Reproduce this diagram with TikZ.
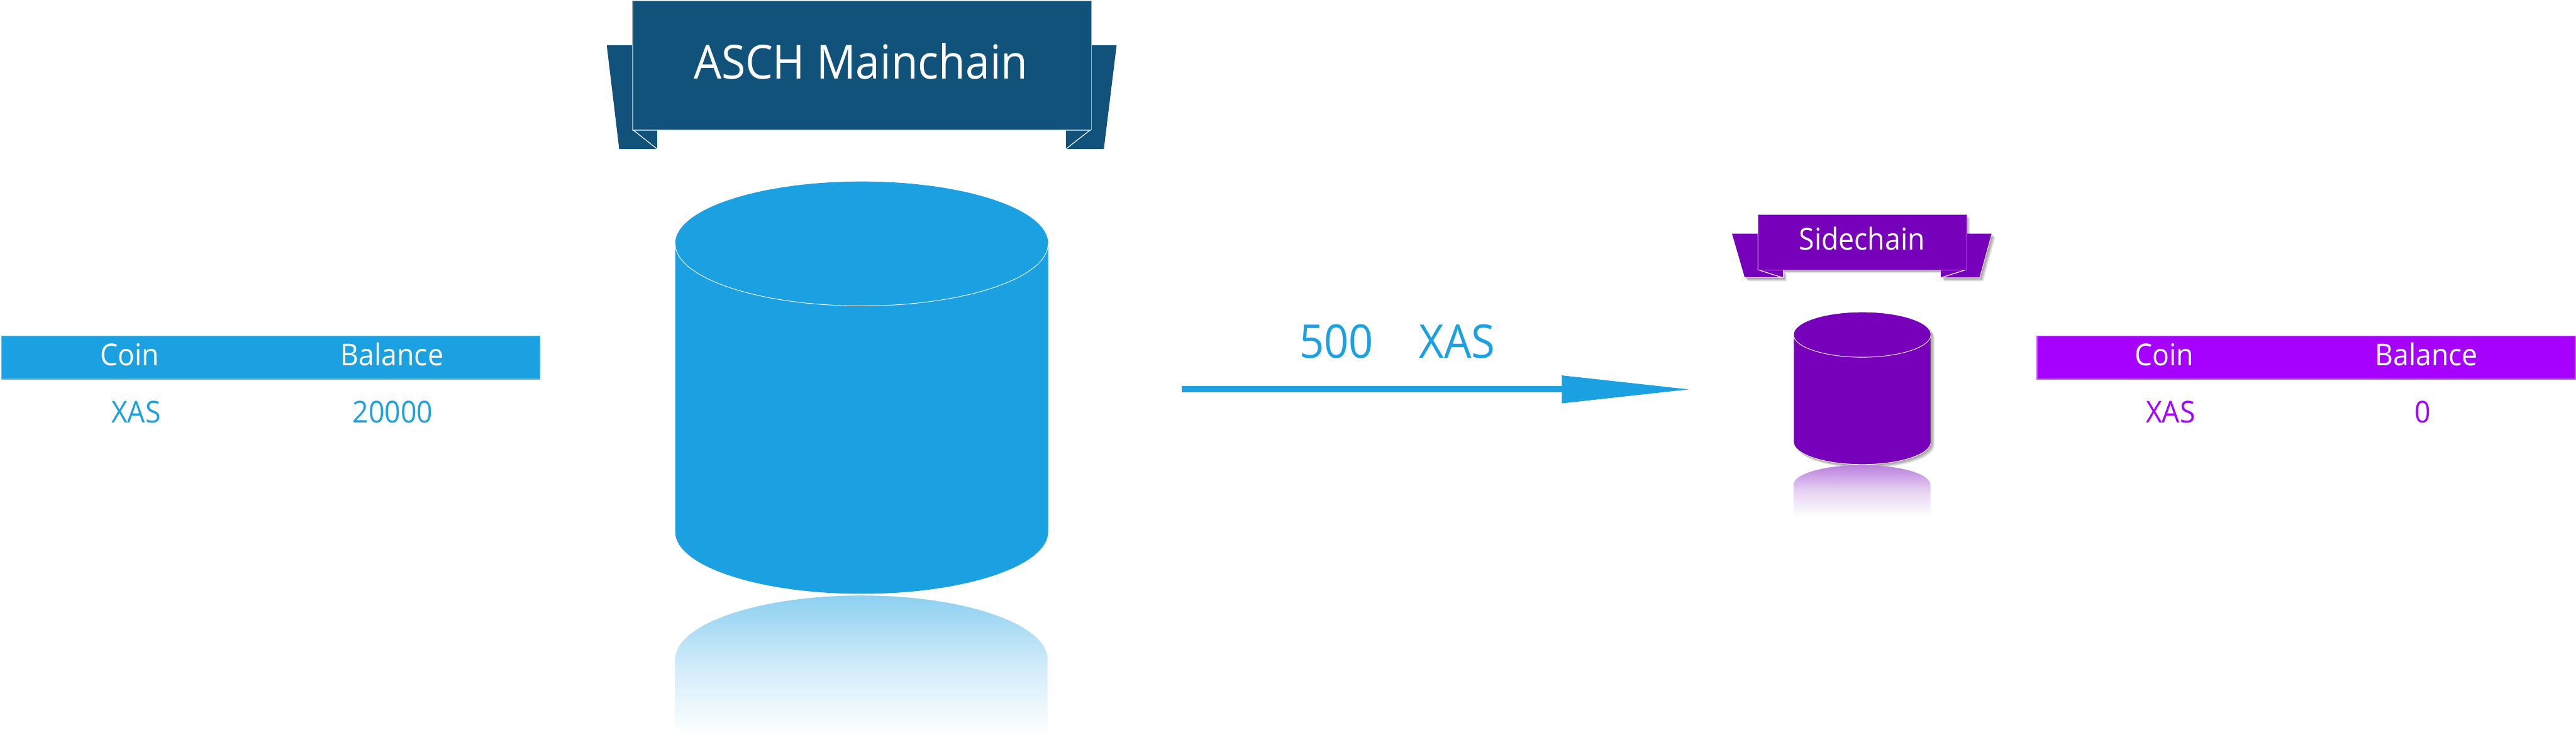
\documentclass[tikz,border=0pt]{standalone}
\usepackage{fontspec}
\setmainfont{Open Sans}[FakeStretch=0.93]
\usetikzlibrary{arrows.meta}
\definecolor{skyblue}{HTML}{1BA0E2}
\definecolor{navy}{HTML}{10527A}
\definecolor{deeppurple}{HTML}{7700BB}
\definecolor{brightpurple}{HTML}{A600FF}
\newcommand{\txt}[1]{\fontsize{#1}{#1}\selectfont}
\newcommand{\softshadow}[1]{\foreach \o in {1.5,3,4.5,6} {\fill[black,opacity=.11,shift={(\o,\o)}] #1;}}
\newcommand{\bodyMain}{(1164,420) -- (1164,917) arc[start angle=180,end angle=360,x radius=321.5pt,y radius=107pt] -- (1807,420) arc[start angle=0,end angle=180,x radius=321.5pt,y radius=107pt] -- cycle}
\newcommand{\bodySide}{(3092,577) -- (3092,762) arc[start angle=180,end angle=360,x radius=118.5pt,y radius=39pt] -- (3329,577) arc[start angle=0,end angle=180,x radius=118.5pt,y radius=39pt] -- cycle}
\newcommand{\flapSideL}{(3030,403) -- (2986,403) -- (3008,479) -- (3074,479) -- (3074,466) -- (3030,466) -- cycle}
\newcommand{\flapSideR}{(3390,403) -- (3434,403) -- (3413,479) -- (3346,479) -- (3346,466) -- (3390,466) -- cycle}
\newcommand{\rectSide}{(3030,370) rectangle (3390,465)}
\tikzset{
  x=1pt,y=-1pt,
  label text/.style={anchor=base,inner sep=0pt,outer sep=0pt},
  tablehead/.style={label text,text=white,font=\txt{52}},
  bluecell/.style={label text,text=skyblue,font=\txt{52}},
  purplecell/.style={label text,text=brightpurple,font=\txt{52}},
  hairline/.style={draw=white,line width=1.3pt},
  headbar/.style={rectangle,anchor=north west,inner sep=0pt,line width=1.5pt}
}
\begin{document}
\begin{tikzpicture}
\useasboundingbox (0,0) rectangle (4441,1276);
\fill[white] (0,0) rectangle (4441,1276);

% left table
\node[headbar,fill=skyblue,draw=skyblue!70!white,minimum width=928pt,minimum height=74pt] (lefthead) at (2,579) {};
\node[tablehead] (lcoin) at (223.5,631) {Coin};
\node[tablehead] (lbal) at (676,631) {Balance};
\node[bluecell] (lxas) at (234.5,729) {XAS};
\node[bluecell] (lval) at (677,729) {20000};

% main banner
\fill[navy] (1090,78) -- (1046,78) -- (1067.5,257) -- (1133,257) -- (1133,225) -- (1090,225) -- cycle;
\fill[navy] (1881,78) -- (1925,78) -- (1903,257) -- (1837.5,257) -- (1837.5,225) -- (1881,225) -- cycle;
\draw[hairline] (1090,223) -- (1133,257);
\draw[hairline] (1881,223) -- (1837.5,257);
\node[rectangle,anchor=north west,inner sep=0pt,fill=navy,draw=navy!45!white,line width=1.3pt,minimum width=791pt,minimum height=222pt] (mainbanner) at (1090,1) {};
\node[label text,text=white,font=\txt{81}] (maintitle) at (1484,136) {ASCH Mainchain};

% main cylinder
\fill[skyblue] \bodyMain;
\draw[white,line width=1pt] (1164,420) arc[start angle=180,end angle=360,x radius=321.5pt,y radius=107.5pt];
\shade[top color=skyblue!50!white,bottom color=white,middle color=skyblue!20!white] (1164,1270) -- (1164,1137) arc[start angle=180,end angle=0,x radius=321pt,y radius=110pt] -- (1806,1270) -- cycle;

% arrow
\coordinate (arrowstart) at (2037,671.5);
\coordinate (arrowend) at (2916,671.5);
\draw[skyblue,line width=11pt,-{Triangle[length=223.5pt,width=45pt]}] (arrowstart) -- (arrowend);
\node[label text,text=skyblue,font=\txt{80}] (amount) at (2304,618) {500};
\node[label text,text=skyblue,font=\txt{80}] (amountunit) at (2512,618) {XAS};

% side banner
\softshadow{\flapSideL}
\softshadow{\flapSideR}
\softshadow{\rectSide}
\fill[deeppurple] \flapSideL;
\fill[deeppurple] \flapSideR;
\draw[white,line width=1pt] (3434,403) -- (3413,479) -- (3346,479);
\draw[white,line width=1pt] (3008,479) -- (3074,479) -- (3074,466);
\draw[hairline] (3030,465) -- (3074,479);
\draw[hairline] (3390,465) -- (3346,479);
\node[rectangle,anchor=north west,inner sep=0pt,fill=deeppurple,draw=deeppurple!45!white,line width=1.3pt,minimum width=360pt,minimum height=95pt] (sidebanner) at (3030,370) {};
\node[label text,text=white,font=\txt{52}] (sidetitle) at (3210,431) {Sidechain};

% side cylinder
\softshadow{\bodySide}
\fill[deeppurple] \bodySide;
\draw[white,line width=1pt] \bodySide;
\draw[white,line width=1pt] (3092,577) arc[start angle=180,end angle=360,x radius=118.5pt,y radius=39pt];
\shade[top color=deeppurple!50!white,bottom color=white,middle color=deeppurple!18!white] (3092,891) -- (3092,836) arc[start angle=180,end angle=0,x radius=118pt,y radius=34pt] -- (3328,891) -- cycle;

% right table
\node[headbar,fill=brightpurple,draw=brightpurple!65!white,minimum width=928pt,minimum height=74pt] (righthead) at (3511,579) {};
\node[tablehead] (rcoin) at (3731,631) {Coin};
\node[tablehead] (rbal) at (4183,631) {Balance};
\node[purplecell] (rxas) at (3742,729) {XAS};
\node[purplecell] (rval) at (4177,729) {0};
\end{tikzpicture}
\end{document}
